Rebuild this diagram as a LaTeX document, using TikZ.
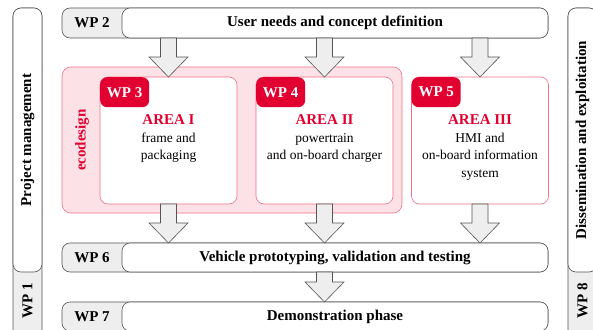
\documentclass[tikz,border=0pt]{standalone}
\usepackage{fontspec}
\setmainfont{Liberation Serif}
\usepackage{tikz}
\usetikzlibrary{calc}

\definecolor{ecored}{RGB}{226,0,48}
\definecolor{ecopink}{RGB}{252,226,231}
\definecolor{ecoline}{RGB}{240,112,134}
\definecolor{barline}{RGB}{85,85,85}
\definecolor{barfill}{RGB}{238,238,238}

\tikzset{
  bar/.style={draw=barline, rounded corners=8pt, inner sep=0pt, outer sep=0pt, line width=0.6pt},
  graybar/.style={bar, fill=barfill},
  whitebar/.style={bar, fill=white},
  bartext/.style={font=\fontsize{15}{18}\selectfont\bfseries},
  areabox/.style={draw=ecoline, fill=white, rounded corners=8pt, minimum width=137pt, minimum height=127pt, inner sep=0pt, outer sep=0pt, line width=0.6pt},
  wptab/.style={fill=ecored, rounded corners=7pt, minimum width=49pt, minimum height=30pt, inner sep=0pt, anchor=north west, text=white, font=\fontsize{15}{18}\selectfont\bfseries},
  areatext/.style={align=center, inner sep=0pt, font=\fontsize{13.5}{17.5}\selectfont},
  bigarrow/.style={draw=barline, fill=barfill, line width=0.6pt,
    to path={let \p1=(\tikztostart), \p2=(\tikztotarget) in
      (\x1-8pt,\y1) -- (\x1-8pt,\y2+20pt) -- (\x1-19.5pt,\y2+20pt) -- (\x2,\y2)
      -- (\x1+19.5pt,\y2+20pt) -- (\x1+8pt,\y2+20pt) -- (\x1+8pt,\y1) -- cycle}}
}

\begin{document}
\begin{tikzpicture}[x=1pt,y=-1pt]
  \useasboundingbox (0,0) rectangle (593,329);
  \clip (0,0) rectangle (593,329);

  % side bars
  \node[graybar, minimum width=29pt, minimum height=334pt] (wp1bar) at (27.5,175) {};
  \node[whitebar, minimum width=29pt, minimum height=264pt] (pm) at (27.5,140) {};
  \node[bartext, rotate=90] (pmtext) at (pm) {Project management};
  \node[bartext, rotate=90] (wp1) at (27.5,301) {WP 1};

  \node[graybar, minimum width=29pt, minimum height=334pt] (wp8bar) at (582.5,175) {};
  \node[whitebar, minimum width=29pt, minimum height=264pt] (de) at (582.5,140) {};
  \node[bartext, rotate=90] (detext) at (de) {Dissemination and exploitation};
  \node[bartext, rotate=90] (wp8) at (582.5,301) {WP 8};

  % ecodesign area
  \node[draw=ecoline, fill=ecopink, rounded corners=9pt, minimum width=340pt, minimum height=146pt, line width=0.6pt] (eco) at (232,140) {};
  \node[bartext, text=ecored, rotate=90] (ecotext) at (82,140) {ecodesign};

  % work package bars
  \node[graybar, minimum width=486pt, minimum height=30pt] (wp2bar) at (305,23) {};
  \node[whitebar, bartext, minimum width=426pt, minimum height=30pt] (wp2t) at (335,23) {User needs and concept definition};
  \node[bartext] (wp2) at (92,23) {WP 2};

  \node[graybar, minimum width=486pt, minimum height=29pt] (wp6bar) at (305,257.5) {};
  \node[whitebar, bartext, minimum width=426pt, minimum height=29pt] (wp6t) at (335,257.5) {Vehicle prototyping, validation and testing};
  \node[bartext] (wp6) at (92,257.5) {WP 6};

  \node[graybar, minimum width=486pt, minimum height=29pt] (wp7bar) at (305,316.5) {};
  \node[whitebar, bartext, minimum width=426pt, minimum height=29pt] (wp7t) at (335,316.5) {Demonstration phase};
  \node[bartext] (wp7) at (92,316.5) {WP 7};

  % areas
  \node[areabox] (box3) at (168.5,140.5) {};
  \node[wptab] (wp3) at (box3.north west) {WP 3};
  \node[areatext] (area3) at (168.5,139) {\textcolor{ecored}{\fontsize{15}{17.5}\selectfont\bfseries AREA I}\\frame and\\packaging};

  \node[areabox] (box4) at (324.5,140.5) {};
  \node[wptab] (wp4) at (box4.north west) {WP 4};
  \node[areatext] (area4) at (324.5,139) {\textcolor{ecored}{\fontsize{15}{17.5}\selectfont\bfseries AREA II}\\powertrain\\and on-board charger};

  \node[areabox] (box5) at (480,140.5) {};
  \node[wptab] (wp5) at (box5.north west) {WP 5};
  \node[areatext] (area5) at (480,147.5) {\textcolor{ecored}{\fontsize{15}{17.5}\selectfont\bfseries AREA III}\\HMI and\\on-board information\\system};

  % arrows
  \draw[bigarrow] (wp2bar.south -| box3.north) to (box3.north);
  \draw[bigarrow] (wp2bar.south -| box4.north) to (box4.north);
  \draw[bigarrow] (wp2bar.south -| box5.north) to (box5.north);
  \draw[bigarrow] (box3.south) to (wp6bar.north -| box3.south);
  \draw[bigarrow] (box4.south) to (wp6bar.north -| box4.south);
  \draw[bigarrow] (box5.south) to (wp6bar.north -| box5.south);
  \draw[bigarrow] (wp6bar.south -| box4.south) to (wp7bar.north -| box4.south);
\end{tikzpicture}
\end{document}
